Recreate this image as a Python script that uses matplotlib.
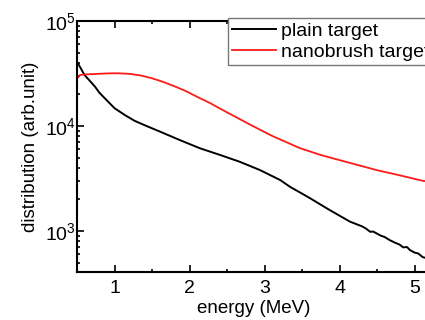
import matplotlib
matplotlib.use('Agg')
import matplotlib.pyplot as plt
from matplotlib.ticker import MultipleLocator, LogLocator

plt.rcParams['font.family'] = ['Liberation Sans', 'DejaVu Sans']

# spectra: energy in MeV, distribution in arb. units
plain_E = [0.50, 0.55, 0.60, 0.67, 0.74, 0.80, 0.87, 1.00, 1.14, 1.27, 1.40, 1.61,
           1.87, 2.14, 2.41, 2.67, 2.94, 3.21, 3.34, 3.47, 3.61, 3.87, 4.14, 4.30,
           4.35, 4.41, 4.45, 4.55, 4.60, 4.67, 4.75, 4.80, 4.85, 4.90, 4.94, 5.00,
           5.05, 5.11, 5.15, 5.20]
plain_N = [40900, 35500, 30600, 27000, 23700, 20700, 18400, 14800, 12700, 11200, 10200, 8830,
           7360, 6140, 5300, 4570, 3810, 3060, 2640, 2340, 2050, 1585, 1230, 1110,
           1060, 985, 990, 905, 880, 820, 770, 745, 700, 705, 659, 625,
           612, 565, 555, 548]

brush_E = [0.50, 0.54, 0.60, 0.74, 0.90, 1.05, 1.20, 1.35, 1.50, 1.65, 1.80, 1.94,
           2.14, 2.27, 2.50, 2.58, 2.81, 3.03, 3.12, 3.47, 3.75, 4.00, 4.50, 4.80,
           5.11, 5.20]
brush_N = [28400, 30600, 31000, 31300, 31700, 31800, 31400, 30300, 28500, 26300, 23900, 21700,
           18400, 16600, 13500, 12600, 10300, 8550, 7950, 6170, 5300, 4740, 3800, 3400,
           3010, 2950]

fig = plt.figure(figsize=(4.25, 3.2), dpi=100)
ax = fig.add_axes([77 / 425, 48 / 320, 352.5 / 425, 251 / 320])

ax.plot(plain_E, plain_N, color='black', lw=1.4, label='plain target')
ax.plot(brush_E, brush_N, color='#ff1a1a', lw=1.3, label='nanobrush target')

ax.set_yscale('log')
ax.set_xlim(0.5, 5.2)
ax.set_ylim(408, 1e5)

ax.xaxis.set_major_locator(MultipleLocator(1))
ax.xaxis.set_minor_locator(MultipleLocator(0.5))
ax.yaxis.set_minor_locator(LogLocator(base=10, subs=range(2, 10), numticks=10))
ax.tick_params(which='both', direction='in', top=True, right=False, labelsize=14, width=1.2)
ax.tick_params(which='major', length=5)
ax.tick_params(which='minor', length=2.5)
ax.tick_params(axis='x', pad=6)
ax.tick_params(axis='y', pad=1)
for s in ax.spines.values():
    s.set_linewidth(1.5)

ax.set_xlabel('energy (MeV)', fontsize=13.5, labelpad=2)
ax.set_ylabel('distribution (arb.unit)', fontsize=13.5, labelpad=4)

leg = ax.legend(loc='upper left', bbox_to_anchor=(228 / 425, 1 - 18 / 320),
                bbox_transform=fig.transFigure, fontsize=14, fancybox=False,
                edgecolor='#777777', framealpha=1, handlelength=2.27, handletextpad=0.26,
                borderpad=0.2, labelspacing=0.2, borderaxespad=0)
leg.get_frame().set_linewidth(1.0)

fig.savefig('out.png', dpi=100)
